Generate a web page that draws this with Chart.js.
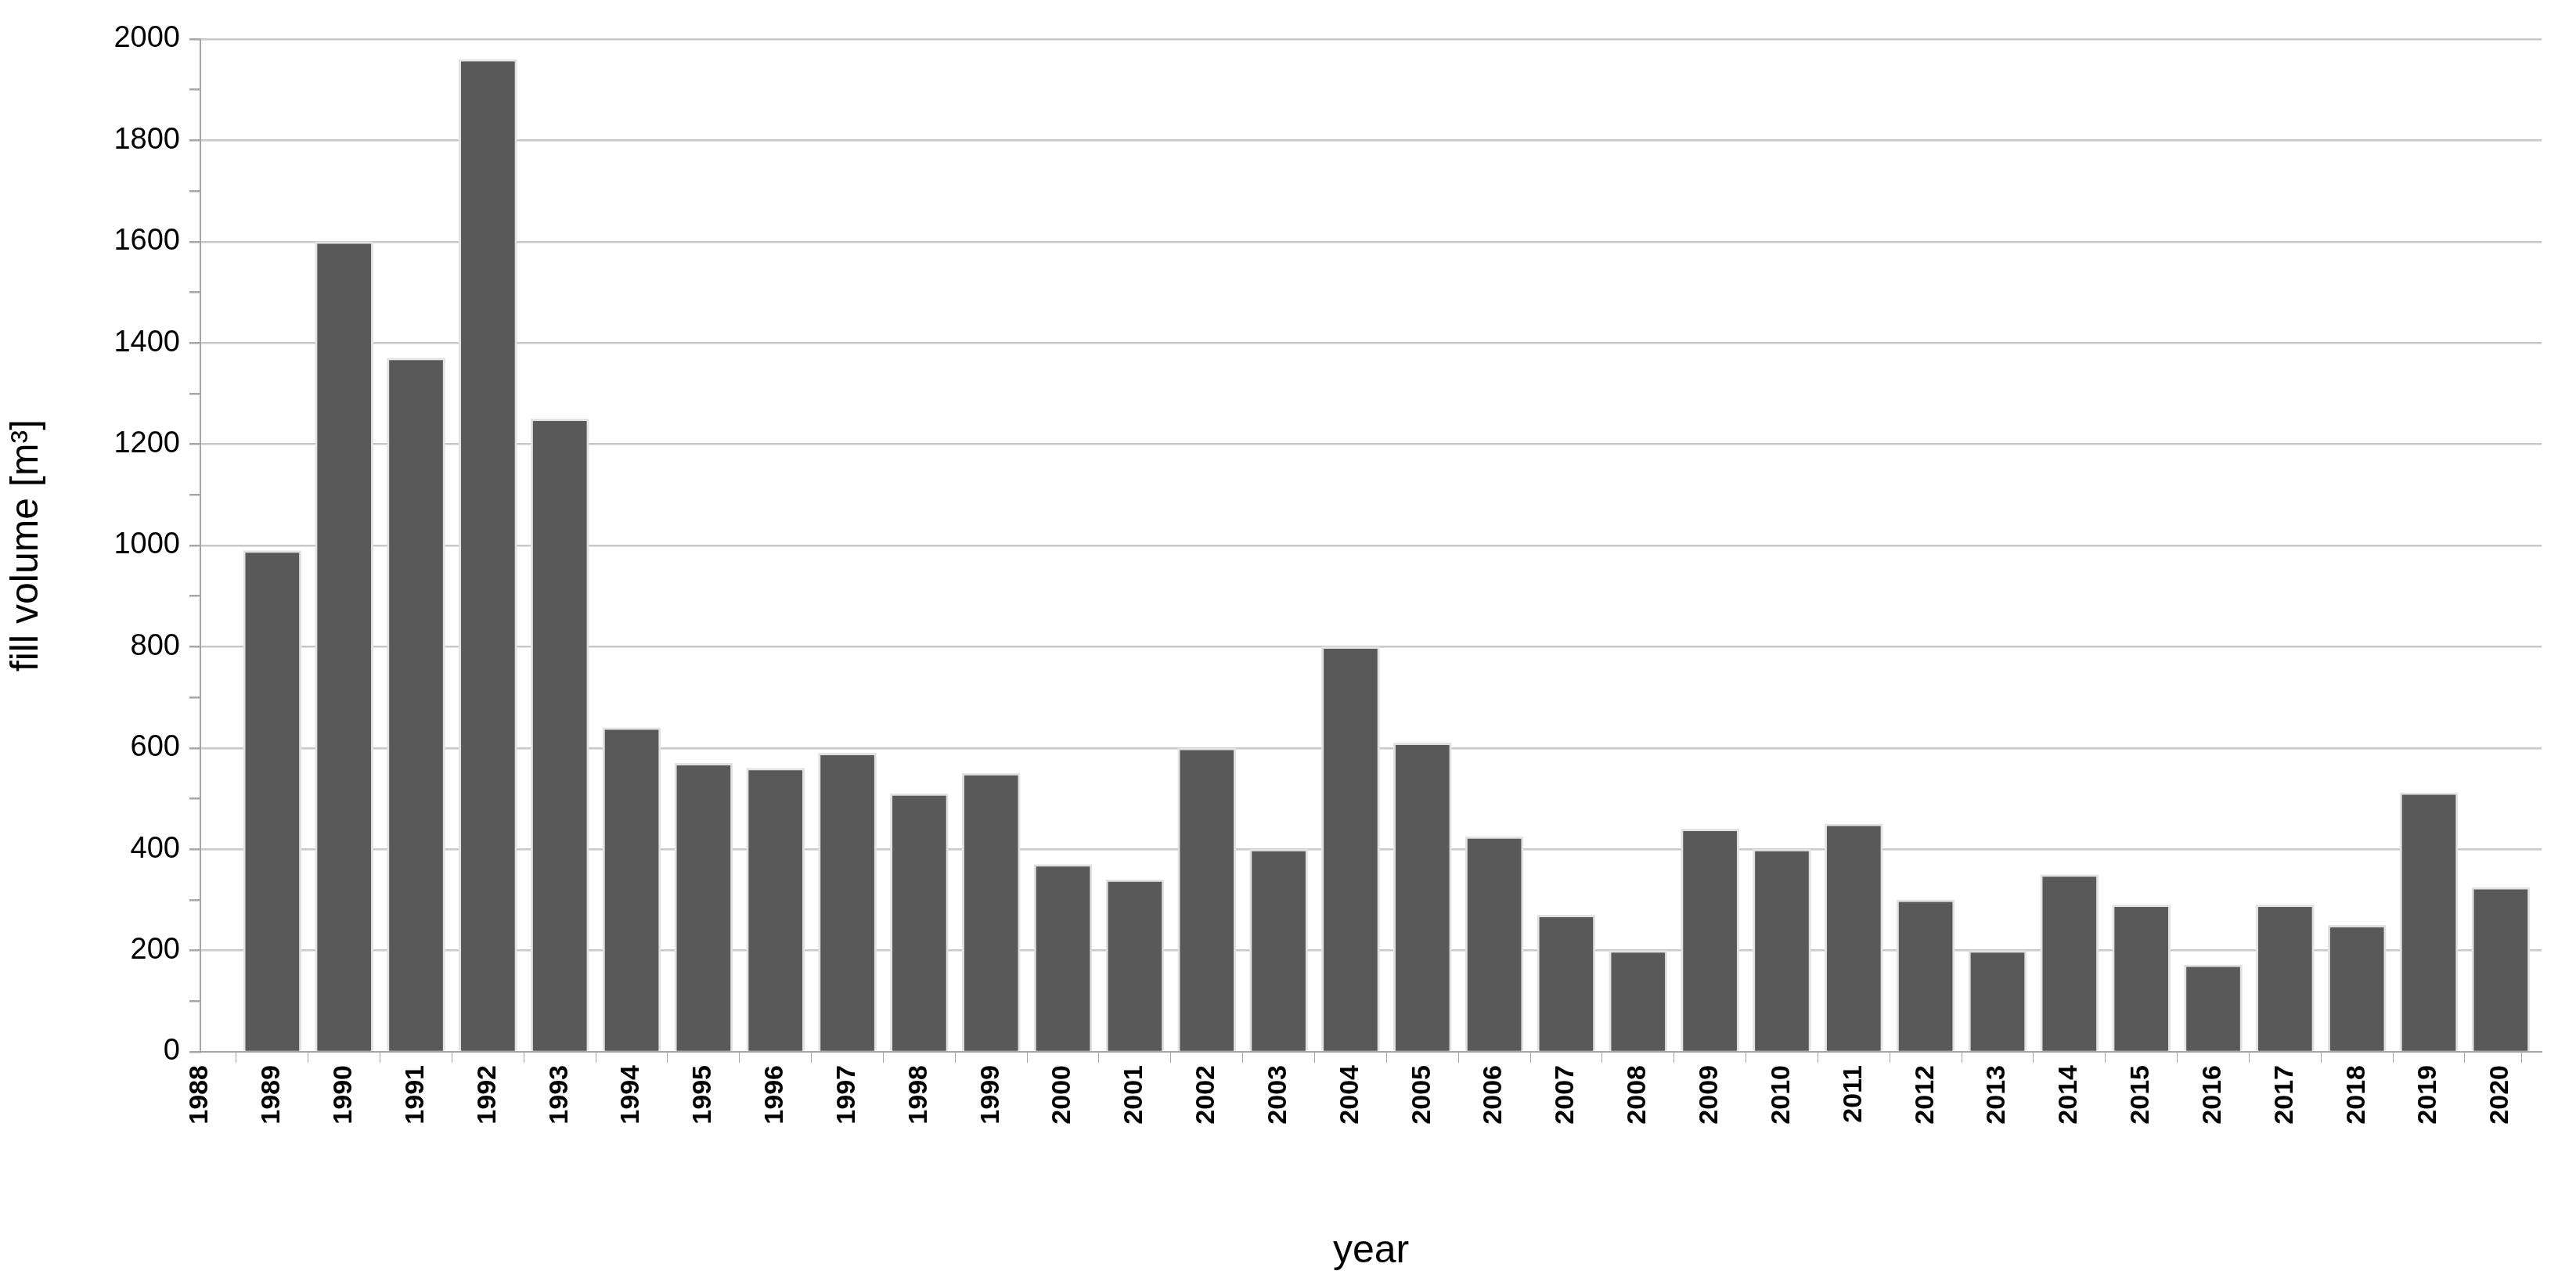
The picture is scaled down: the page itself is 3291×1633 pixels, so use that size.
<!DOCTYPE html>
<html><head><meta charset="utf-8">
<script src="https://cdn.jsdelivr.net/npm/chart.js@4"></script>
<style>html,body{margin:0;padding:0;background:#fff}#w{width:3291px;height:1633px}</style>
</head><body><div id="w"><canvas id="c"></canvas></div>
<script>
const years = [1989,1990,1991,1992,1993,1994,1995,1996,1997,1998,1999,2000,2001,2002,2003,2004,2005,2006,2007,2008,2009,2010,2011,2012,2013,2014,2015,2016,2017,2018,2019,2020];
const fillVolume = [990,1600,1370,1960,1250,640,570,560,590,510,550,370,340,600,400,800,610,425,270,200,440,400,450,300,200,350,290,172,290,250,512,325];
const yTicks = [0,200,400,600,800,1000,1200,1400,1600,1800,2000];

new Chart(document.getElementById('c'), {
  type: 'bar',
  data: { datasets: [{
    data: years.map((y,i)=>({x:y, y:fillVolume[i]})),
    backgroundColor: '#595959', borderColor: '#e2e2e2', borderWidth: 3,
    barThickness: 74
  }]},
  options: {
    responsive: true, maintainAspectRatio: false, animation: false,
    layout: { padding: { top: 50, right: 6, left: 0, bottom: 0 } },
    plugins: { legend: { display: false }, tooltip: { enabled: false } },
    scales: {
      x: {
        type: 'linear', min: 1988, max: 2020.57, offset: false,
        afterFit: s => { s.height = 289; },
        ticks: { stepSize: 1, autoSkip: false, minRotation: 90, maxRotation: 90,
          color: '#000', font: { family: 'Liberation Sans, Arial', size: 34, weight: 'bold' },
          callback: v => Number.isInteger(v) && v <= 2020 ? String(v) : '' },
        grid: { display: true, drawOnChartArea: false, drawTicks: true, tickLength: 14, tickColor: '#a6a6a6' },
        border: { color: '#a6a6a6', width: 2 },
        title: { display: true, text: 'year', color: '#000', font: { family: 'Liberation Sans, Arial', size: 50 }, padding: { top: 4 } }
      },
      y: {
        min: 0, max: 2000,
        afterFit: s => { s.width = 256; },
        afterBuildTicks: s => { const t=[]; for (let v=0; v<=2000; v+=100) t.push({value:v}); s.ticks = t; },
        ticks: { autoSkip: false, color: '#000', padding: 12,
          font: { family: 'Liberation Sans, Arial', size: 38 },
          callback: v => yTicks.includes(v) ? String(v) : '' },
        grid: { color: c => (c.tick && c.tick.value % 200 === 0 && c.tick.value !== 0) ? '#c8c8c8' : 'rgba(0,0,0,0)',
          lineWidth: 2.5, tickLength: 14, tickColor: '#a6a6a6', drawTicks: true },
        border: { color: '#a6a6a6', width: 2 },
        title: { display: true, text: 'fill volume [m³]', color: '#000', font: { family: 'Liberation Sans, Arial', size: 50 }, padding: { bottom: 20 } }
      }
    }
  }
});
</script></body></html>
